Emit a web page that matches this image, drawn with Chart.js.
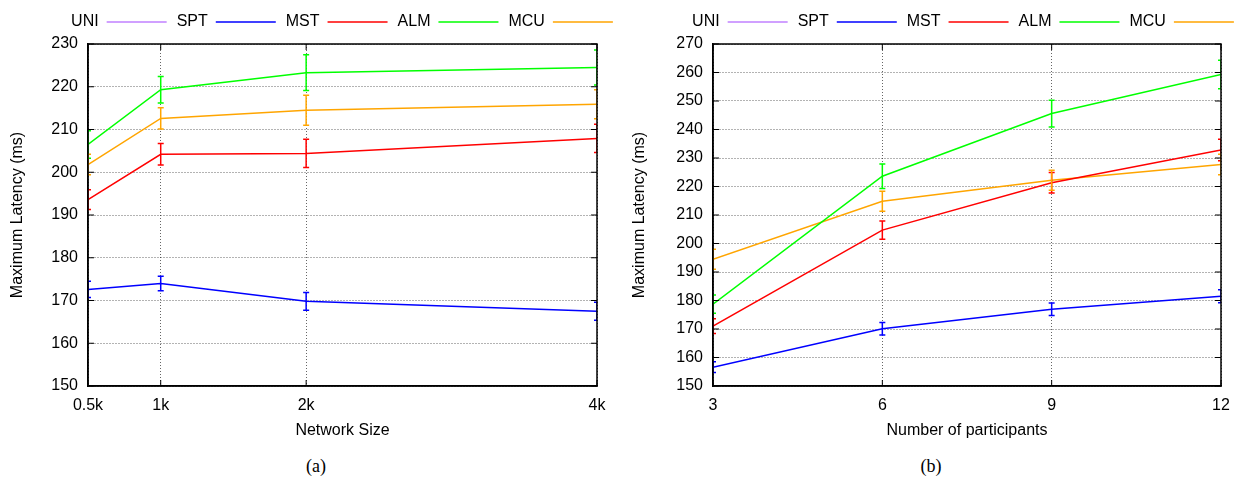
<!DOCTYPE html>
<html>
<head>
<meta charset="utf-8">
<script src="https://cdn.jsdelivr.net/npm/chart.js@4/dist/chart.umd.min.js"></script>
<style>
html, body { margin:0; padding:0; background:#fff; overflow:hidden; }
#page { position:relative; width:1245px; height:478px; overflow:hidden; }
.panel { position:absolute; top:0; }
.cap { position:absolute; top:455px; height:22px; line-height:22px; width:60px; text-align:center;
       font-family:"Liberation Serif","DejaVu Serif",serif; font-size:18px; color:#000; }
</style>
</head>
<body>
<div id="page">
  <canvas id="chartA" class="panel" style="left:0" width="684" height="450"></canvas>
  <canvas id="chartB" class="panel" style="left:622px" width="682" height="450"></canvas>
  <div class="cap" style="left:286px">(a)</div>
  <div class="cap" style="left:901px">(b)</div>
</div>
<script>
// legend names and colours (gnuplot style)
const seriesNames = ['UNI', 'SPT', 'MST', 'ALM', 'MCU'];
const seriesColors = ['#c080ff', '#0000ff', '#ff0000', '#00ff00', '#ffa500'];

// (a) network size
const sizeValues = [500, 1000, 2000, 4000];
const sizeLabels = ['0.5k', '1k', '2k', '4k'];
const sizeUNI = [];
const sizeUNIerr = [];
const sizeSPT = [172.6, 174.0, 169.8, 167.5];
const sizeSPTerr = [1.9, 1.7, 2.1, 2.1];
const sizeMST = [193.6, 204.2, 204.4, 207.9];
const sizeMSTerr = [2.3, 2.5, 3.3, 3.3];
const sizeALM = [206.5, 219.3, 223.3, 224.5];
const sizeALMerr = [3.2, 3.1, 4.2, 4.1];
const sizeMCU = [201.8, 212.6, 214.5, 215.9];
const sizeMCUerr = [2.4, 2.5, 3.5, 3.4];

// (b) number of participants
const partValues = [3, 6, 9, 12];
const partLabels = ['3', '6', '9', '12'];
const partUNI = [];
const partUNIerr = [];
const partSPT = [156.6, 170.1, 176.9, 181.5];
const partSPTerr = [1.9, 2.2, 2.2, 2.3];
const partMST = [171.0, 204.7, 221.3, 232.8];
const partMSTerr = [2.6, 3.2, 3.6, 3.8];
const partALM = [178.7, 223.6, 245.6, 259.3];
const partALMerr = [3.2, 4.3, 4.7, 5.0];
const partMCU = [194.5, 214.8, 222.2, 227.7];
const partMCUerr = [3.5, 3.5, 3.5, 3.6];

Chart.defaults.font.family = '"Liberation Sans", Arial, sans-serif';
Chart.defaults.font.size = 16;
Chart.defaults.color = '#000';

// vertical error bars with small caps, clipped to the plot box
const errorBars = {
  id: 'errorBars',
  afterDatasetsDraw(chart) {
    const {ctx, chartArea: a, scales: {x, y}} = chart;
    ctx.save();
    ctx.beginPath();
    ctx.rect(a.left, a.top, a.right - a.left, a.bottom - a.top);
    ctx.clip();
    chart.data.datasets.forEach(ds => {
      if (!ds.errors) return;
      ctx.strokeStyle = ds.borderColor;
      ctx.lineWidth = 1.5;
      ds.data.forEach((p, i) => {
        const px = x.getPixelForValue(p.x);
        const hi = y.getPixelForValue(p.y + ds.errors[i]);
        const lo = y.getPixelForValue(p.y - ds.errors[i]);
        ctx.beginPath();
        ctx.moveTo(px, hi); ctx.lineTo(px, lo);
        ctx.moveTo(px - 3, hi); ctx.lineTo(px + 3, hi);
        ctx.moveTo(px - 3, lo); ctx.lineTo(px + 3, lo);
        ctx.stroke();
      });
    });
    ctx.restore();
  }
};

// full box round the plot + inward ticks on every side
const frame = {
  id: 'frame',
  afterDraw(chart) {
    const {ctx, chartArea: a, scales: {x, y}} = chart;
    ctx.save();
    ctx.strokeStyle = '#000';
    ctx.lineWidth = 1;
    ctx.beginPath();
    y.ticks.forEach(t => {
      const py = y.getPixelForValue(t.value);
      ctx.moveTo(a.left, py); ctx.lineTo(a.left + 6, py);
      ctx.moveTo(a.right, py); ctx.lineTo(a.right - 6, py);
    });
    x.ticks.forEach(t => {
      const px = x.getPixelForValue(t.value);
      ctx.moveTo(px, a.bottom); ctx.lineTo(px, a.bottom - 6);
      ctx.moveTo(px, a.top); ctx.lineTo(px, a.top + 6);
    });
    ctx.stroke();
    ctx.lineWidth = 1.5;
    ctx.strokeRect(a.left, a.top, a.right - a.left, a.bottom - a.top);
    ctx.restore();
  }
};

function makeChart(id, xs, xLabels, series, yMax, xTitle, yWidth, rightGap, topGap) {
  const datasets = series.map((s, k) => ({
    label: seriesNames[k],
    data: s[0].map((v, i) => ({x: xs[i], y: v})),
    errors: s[1],
    borderColor: seriesColors[k],
    backgroundColor: seriesColors[k],
    borderWidth: 1.5,
    pointRadius: 0,
    tension: 0
  }));
  return new Chart(document.getElementById(id), {
    type: 'line',
    data: {datasets: datasets},
    plugins: [errorBars, frame],
    options: {
      responsive: false,
      animation: false,
      events: [],
      layout: {padding: {left: 0, right: 0, top: 4, bottom: 0}},
      plugins: {
        tooltip: {enabled: false},
        legend: {
          rtl: true,
          reverse: true,
          labels: {
            usePointStyle: true,
            pointStyle: 'line',
            pointStyleWidth: 60,
            boxHeight: 16,
            padding: 10,
            font: {size: 16}
          }
        }
      },
      scales: {
        x: {
          type: 'linear',
          min: xs[0],
          max: xs[xs.length - 1],
          afterBuildTicks: s => { s.ticks = xs.map(v => ({value: v})); },
          afterFit: s => { s.height = 64; },
          ticks: {
            padding: 10,
            maxRotation: 0,
            callback: v => xLabels[xs.indexOf(v)]
          },
          grid: {color: 'rgba(0,0,0,0.6)', lineWidth: 1, drawTicks: false},
          border: {color: '#000', width: 1.5, dash: [1, 2]},
          title: {display: true, text: xTitle, font: {size: 16}, padding: {top: 0, bottom: 10}}
        },
        // empty spacer between the key and the plot
        x2: {
          type: 'linear',
          position: 'top',
          afterFit: s => { s.height = topGap; },
          ticks: {display: false},
          grid: {display: false, drawTicks: false},
          border: {display: false}
        },
        y: {
          min: 150,
          max: yMax,
          afterFit: s => { s.width = yWidth; },
          ticks: {stepSize: 10, padding: 10},
          grid: {color: 'rgba(0,0,0,0.6)', lineWidth: 1, drawTicks: false},
          border: {color: '#000', width: 1.5, dash: [1, 2]},
          title: {display: true, text: 'Maximum Latency (ms)', font: {size: 16}, padding: {top: 8, bottom: 0}}
        },
        // empty spacer on the right so the key can sit centred over the plot
        y2: {
          position: 'right',
          afterFit: s => { s.width = rightGap; },
          ticks: {display: false},
          grid: {display: false, drawTicks: false},
          border: {display: false}
        }
      }
    }
  });
}

makeChart('chartA', sizeValues, sizeLabels, [
  [sizeUNI, sizeUNIerr],
  [sizeSPT, sizeSPTerr],
  [sizeMST, sizeMSTerr],
  [sizeALM, sizeALMerr],
  [sizeMCU, sizeMCUerr]
], 230, 'Network Size', 88, 87, 4);

makeChart('chartB', partValues, partLabels, [
  [partUNI, partUNIerr],
  [partSPT, partSPTerr],
  [partMST, partMSTerr],
  [partALM, partALMerr],
  [partMCU, partMCUerr]
], 270, 'Number of participants', 91, 83, 4);
</script>
</body>
</html>
